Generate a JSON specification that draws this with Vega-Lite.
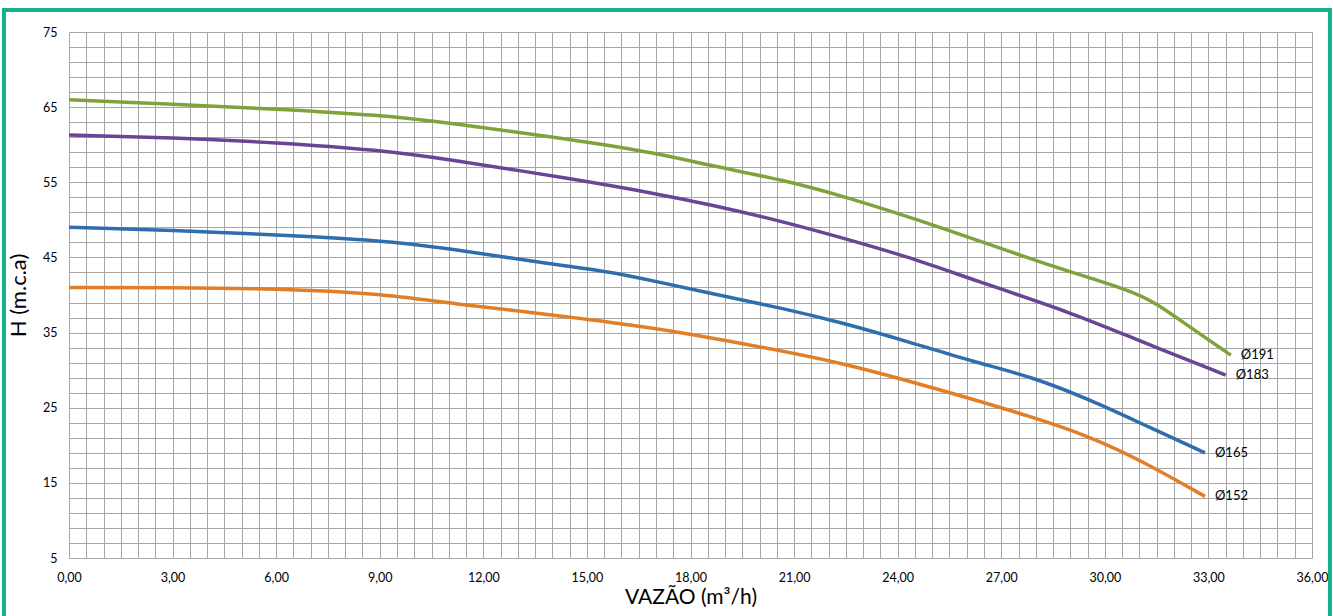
{
  "$schema": "https://vega.github.io/schema/vega-lite/v6.json",
  "width": 1243,
  "height": 526,
  "autosize": {"type": "none"},
  "padding": {"left": 69, "top": 32, "right": 21, "bottom": 58},
  "background": "white",
  "config": {
    "font": "Lato",
    "view": {"stroke": null},
    "axis": {"labelFont": "Lato", "titleFont": "Lato", "labelFlush": false}
  },
  "datasets": {
    "curves": [
      {"d": "Ø191", "q": 0, "h": 66.0}, {"d": "Ø191", "q": 3, "h": 65.4}, {"d": "Ø191", "q": 6, "h": 64.75}, {"d": "Ø191", "q": 9, "h": 63.95},
      {"d": "Ø191", "q": 11, "h": 62.9}, {"d": "Ø191", "q": 14.5, "h": 60.75}, {"d": "Ø191", "q": 17, "h": 58.9}, {"d": "Ø191", "q": 18.6, "h": 57.2},
      {"d": "Ø191", "q": 20.7, "h": 55.3}, {"d": "Ø191", "q": 22.4, "h": 53.2}, {"d": "Ø191", "q": 25.25, "h": 49.05}, {"d": "Ø191", "q": 28.15, "h": 44.25},
      {"d": "Ø191", "q": 30.75, "h": 40.65}, {"d": "Ø191", "q": 31.5, "h": 38.9}, {"d": "Ø191", "q": 32.5, "h": 35.6}, {"d": "Ø191", "q": 33.65, "h": 32.0},
      {"d": "Ø183", "q": 0, "h": 61.3}, {"d": "Ø183", "q": 3, "h": 60.95}, {"d": "Ø183", "q": 6, "h": 60.3}, {"d": "Ø183", "q": 9, "h": 59.3},
      {"d": "Ø183", "q": 11, "h": 58.05}, {"d": "Ø183", "q": 14.5, "h": 55.5}, {"d": "Ø183", "q": 17, "h": 53.5}, {"d": "Ø183", "q": 18.6, "h": 52.0},
      {"d": "Ø183", "q": 20.7, "h": 49.75}, {"d": "Ø183", "q": 22.4, "h": 47.6}, {"d": "Ø183", "q": 24.3, "h": 45.1}, {"d": "Ø183", "q": 26.2, "h": 42.0},
      {"d": "Ø183", "q": 29.1, "h": 37.55}, {"d": "Ø183", "q": 31.05, "h": 33.8}, {"d": "Ø183", "q": 33.5, "h": 29.35},
      {"d": "Ø165", "q": 0, "h": 49.0}, {"d": "Ø165", "q": 3, "h": 48.65}, {"d": "Ø165", "q": 6, "h": 48.0}, {"d": "Ø165", "q": 9, "h": 47.3},
      {"d": "Ø165", "q": 11, "h": 46.2}, {"d": "Ø165", "q": 13.5, "h": 44.4}, {"d": "Ø165", "q": 15.7, "h": 43.1}, {"d": "Ø165", "q": 17, "h": 41.8},
      {"d": "Ø165", "q": 18.6, "h": 40.2}, {"d": "Ø165", "q": 20.7, "h": 38.2}, {"d": "Ø165", "q": 22.4, "h": 36.3}, {"d": "Ø165", "q": 24.3, "h": 33.8},
      {"d": "Ø165", "q": 26.2, "h": 31.1}, {"d": "Ø165", "q": 27.9, "h": 29.1}, {"d": "Ø165", "q": 29.6, "h": 26.0}, {"d": "Ø165", "q": 31.05, "h": 22.9},
      {"d": "Ø165", "q": 32.9, "h": 19.0},
      {"d": "Ø152", "q": 0, "h": 41.0}, {"d": "Ø152", "q": 3, "h": 41.0}, {"d": "Ø152", "q": 6, "h": 40.85}, {"d": "Ø152", "q": 9, "h": 40.2},
      {"d": "Ø152", "q": 11, "h": 38.9}, {"d": "Ø152", "q": 14.5, "h": 37.1}, {"d": "Ø152", "q": 17, "h": 35.6}, {"d": "Ø152", "q": 19.75, "h": 33.35},
      {"d": "Ø152", "q": 22.5, "h": 30.9}, {"d": "Ø152", "q": 25.25, "h": 27.35}, {"d": "Ø152", "q": 27.9, "h": 23.8}, {"d": "Ø152", "q": 29.6, "h": 21.1},
      {"d": "Ø152", "q": 31.05, "h": 18.0}, {"d": "Ø152", "q": 32.9, "h": 13.2}
    ]
  },
  "layer": [
    {
      "data": {"name": "curves"},
      "mark": {"type": "line", "interpolate": "basis", "strokeWidth": 3.5},
      "encoding": {
        "x": {
          "field": "q", "type": "quantitative",
          "scale": {"domain": [0, 36], "nice": false, "zero": false},
          "axis": {
            "values": [0,0.5,1,1.5,2,2.5,3,3.5,4,4.5,5,5.5,6,6.5,7,7.5,8,8.5,9,9.5,10,10.5,11,11.5,12,12.5,13,13.5,14,14.5,15,15.5,16,16.5,17,17.5,18,18.5,19,19.5,20,20.5,21,21.5,22,22.5,23,23.5,24,24.5,25,25.5,26,26.5,27,27.5,28,28.5,29,29.5,30,30.5,31,31.5,32,32.5,33,33.5,34,34.5,35,35.5,36],
            "labelExpr": "datum.value % 3 == 0 ? replace(format(datum.value, '.2f'), '.', ',') : ''",
            "labelOverlap": false, "labelFlush": false, "labelFontSize": 12.5, "labelColor": "#000000", "labelPadding": 13,
            "ticks": false, "domain": false, "grid": true, "gridColor": "#a6a6a6", "gridWidth": 1,
            "title": "VAZÃO (m³/h)", "titleFontSize": 21, "titleFontWeight": "normal", "titleColor": "#000000", "titlePadding": 3
          }
        },
        "y": {
          "field": "h", "type": "quantitative",
          "scale": {"domain": [5, 75], "nice": false, "zero": false},
          "axis": {
            "values": [5,7,9,11,13,15,17,19,21,23,25,27,29,31,33,35,37,39,41,43,45,47,49,51,53,55,57,59,61,63,65,67,69,71,73,75],
            "labelExpr": "(datum.value - 5) % 10 == 0 ? datum.value : ''",
            "labelOverlap": false, "labelFlush": false, "labelFontSize": 12.5, "labelColor": "#000000", "labelPadding": 12,
            "ticks": false, "domain": false, "grid": true, "gridColor": "#a6a6a6", "gridWidth": 1,
            "title": "H (m.c.a)", "titleFontSize": 22, "titleFontWeight": "normal", "titleColor": "#000000", "titlePadding": 12
          }
        },
        "color": {
          "field": "d", "type": "nominal",
          "scale": {"domain": ["Ø191", "Ø183", "Ø165", "Ø152"], "range": ["#80A23A", "#6B4595", "#2E6DAE", "#E27D28"]},
          "legend": null
        },
        "order": {"field": "q", "type": "quantitative"}
      }
    },
    {
      "data": {"name": "curves"},
      "transform": [
        {"joinaggregate": [{"op": "max", "field": "q", "as": "qmax"}], "groupby": ["d"]},
        {"filter": "datum.q == datum.qmax"}
      ],
      "mark": {"type": "text", "align": "left", "baseline": "middle", "dx": 10, "fontSize": 13, "font": "Lato", "color": "#000000"},
      "encoding": {
        "x": {
          "field": "q", "type": "quantitative",
          "axis": {
            "values": [0,0.5,1,1.5,2,2.5,3,3.5,4,4.5,5,5.5,6,6.5,7,7.5,8,8.5,9,9.5,10,10.5,11,11.5,12,12.5,13,13.5,14,14.5,15,15.5,16,16.5,17,17.5,18,18.5,19,19.5,20,20.5,21,21.5,22,22.5,23,23.5,24,24.5,25,25.5,26,26.5,27,27.5,28,28.5,29,29.5,30,30.5,31,31.5,32,32.5,33,33.5,34,34.5,35,35.5,36],
            "labelExpr": "datum.value % 3 == 0 ? replace(format(datum.value, '.2f'), '.', ',') : ''",
            "labelOverlap": false, "labelFlush": false, "labelFontSize": 12.5, "labelColor": "#000000", "labelPadding": 13,
            "ticks": false, "domain": false, "grid": true, "gridColor": "#a6a6a6", "gridWidth": 1,
            "title": "VAZÃO (m³/h)", "titleFontSize": 21, "titleFontWeight": "normal", "titleColor": "#000000", "titlePadding": 3
          }
        },
        "y": {
          "field": "h", "type": "quantitative",
          "axis": {
            "values": [5,7,9,11,13,15,17,19,21,23,25,27,29,31,33,35,37,39,41,43,45,47,49,51,53,55,57,59,61,63,65,67,69,71,73,75],
            "labelExpr": "(datum.value - 5) % 10 == 0 ? datum.value : ''",
            "labelOverlap": false, "labelFlush": false, "labelFontSize": 12.5, "labelColor": "#000000", "labelPadding": 12,
            "ticks": false, "domain": false, "grid": true, "gridColor": "#a6a6a6", "gridWidth": 1,
            "title": "H (m.c.a)", "titleFontSize": 22, "titleFontWeight": "normal", "titleColor": "#000000", "titlePadding": 12
          }
        },
        "text": {"field": "d"}
      }
    },
    {
      "data": {"values": [{}]},
      "mark": {"type": "rect", "fill": null, "stroke": "#12B28C", "strokeWidth": 4, "clip": false},
      "encoding": {
        "x": {
          "datum": -1.884, "type": "quantitative",
          "axis": {
            "values": [0,0.5,1,1.5,2,2.5,3,3.5,4,4.5,5,5.5,6,6.5,7,7.5,8,8.5,9,9.5,10,10.5,11,11.5,12,12.5,13,13.5,14,14.5,15,15.5,16,16.5,17,17.5,18,18.5,19,19.5,20,20.5,21,21.5,22,22.5,23,23.5,24,24.5,25,25.5,26,26.5,27,27.5,28,28.5,29,29.5,30,30.5,31,31.5,32,32.5,33,33.5,34,34.5,35,35.5,36],
            "labelExpr": "datum.value % 3 == 0 ? replace(format(datum.value, '.2f'), '.', ',') : ''",
            "labelOverlap": false, "labelFlush": false, "labelFontSize": 12.5, "labelColor": "#000000", "labelPadding": 13,
            "ticks": false, "domain": false, "grid": true, "gridColor": "#a6a6a6", "gridWidth": 1,
            "title": "VAZÃO (m³/h)", "titleFontSize": 21, "titleFontWeight": "normal", "titleColor": "#000000", "titlePadding": 3
          }
        },
        "x2": {"datum": 36.52},
        "y": {
          "datum": 77.93, "type": "quantitative",
          "axis": {
            "values": [5,7,9,11,13,15,17,19,21,23,25,27,29,31,33,35,37,39,41,43,45,47,49,51,53,55,57,59,61,63,65,67,69,71,73,75],
            "labelExpr": "(datum.value - 5) % 10 == 0 ? datum.value : ''",
            "labelOverlap": false, "labelFlush": false, "labelFontSize": 12.5, "labelColor": "#000000", "labelPadding": 12,
            "ticks": false, "domain": false, "grid": true, "gridColor": "#a6a6a6", "gridWidth": 1,
            "title": "H (m.c.a)", "titleFontSize": 22, "titleFontWeight": "normal", "titleColor": "#000000", "titlePadding": 12
          }
        },
        "y2": {"datum": -4.5}
      }
    }
  ]
}
